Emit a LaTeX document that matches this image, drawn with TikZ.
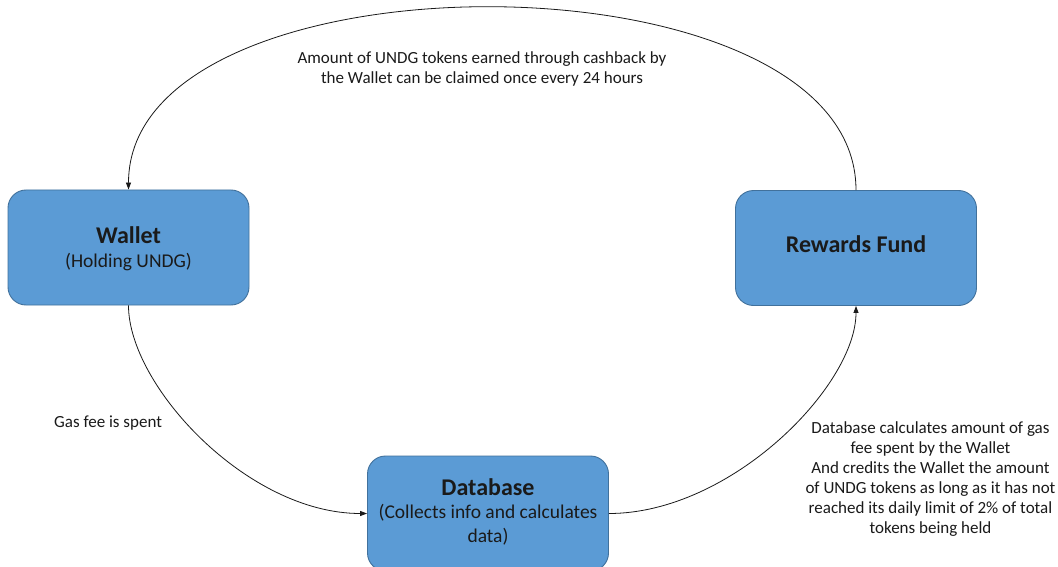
\documentclass[tikz,border=0pt]{standalone}
\usepackage{fontspec}
\setmainfont{Carlito}
\usetikzlibrary{arrows.meta}
\definecolor{boxfill}{HTML}{5B9BD5}
\definecolor{boxline}{HTML}{41719C}
\definecolor{ink}{HTML}{1A1A1A}
\begin{document}
\begin{tikzpicture}[x=1pt,y=-1pt,
  box/.style={draw=boxline, fill=boxfill, line width=0.9pt, rounded corners=18pt,
              minimum width=241pt, minimum height=115pt, inner sep=0pt},
  flow/.style={draw=ink, line width=0.8pt, -{Triangle[length=7pt,width=5pt]}},
  title/.style={anchor=base, inner sep=0pt, text=ink, font=\fontsize{24}{28}\selectfont\bfseries},
  sub/.style={anchor=base, inner sep=0pt, text=ink, align=center, font=\fontsize{19.5}{23.5}\selectfont},
  lbl/.style={anchor=base, inner sep=0pt, text=ink, align=center, font=\fontsize{17}{20}\selectfont}
]
\clip (0,0) rectangle (1058,567);
\fill[white] (0,0) rectangle (1058,567);

\node[box] (w)  at (128.5,247.5) {};
\node[box] (rf) at (856,248) {};
\node[box] (db) at (488,513.5) {};

\node[title] (wt)  at (128.5,243) {Wallet};
\node[sub]   (ws)  at (128.5,267) {(Holding UNDG)};
\node[title] (rft) at (856,252) {Rewards Fund};
\node[title] (dbt) at (488,495) {Database};
\node[sub]   (dbs) at (488,542) {(Collects info and calculates\\data)};

\draw[flow] (rf.north) .. controls +(0,-243) and +(0,-243) .. (w.north);
\draw[flow] (w.south) .. controls +(0,80) and +(-120,0) .. (db.west);
\draw[flow] (db.east) .. controls +(122,0) and +(0,80) .. (rf.south);

\node[lbl] (top) at (482,84) {Amount of UNDG tokens earned through cashback by\\the Wallet can be claimed once every 24 hours};
\node[lbl, anchor=base west] (gas) at (54,427) {Gas fee is spent};
\node[lbl] (calc) at (930.5,533) {Database calculates amount of gas\\fee spent by the Wallet\\And credits the Wallet the amount\\of UNDG tokens as long as it has not\\reached its daily limit of 2\% of total\\tokens being held};
\end{tikzpicture}
\end{document}
